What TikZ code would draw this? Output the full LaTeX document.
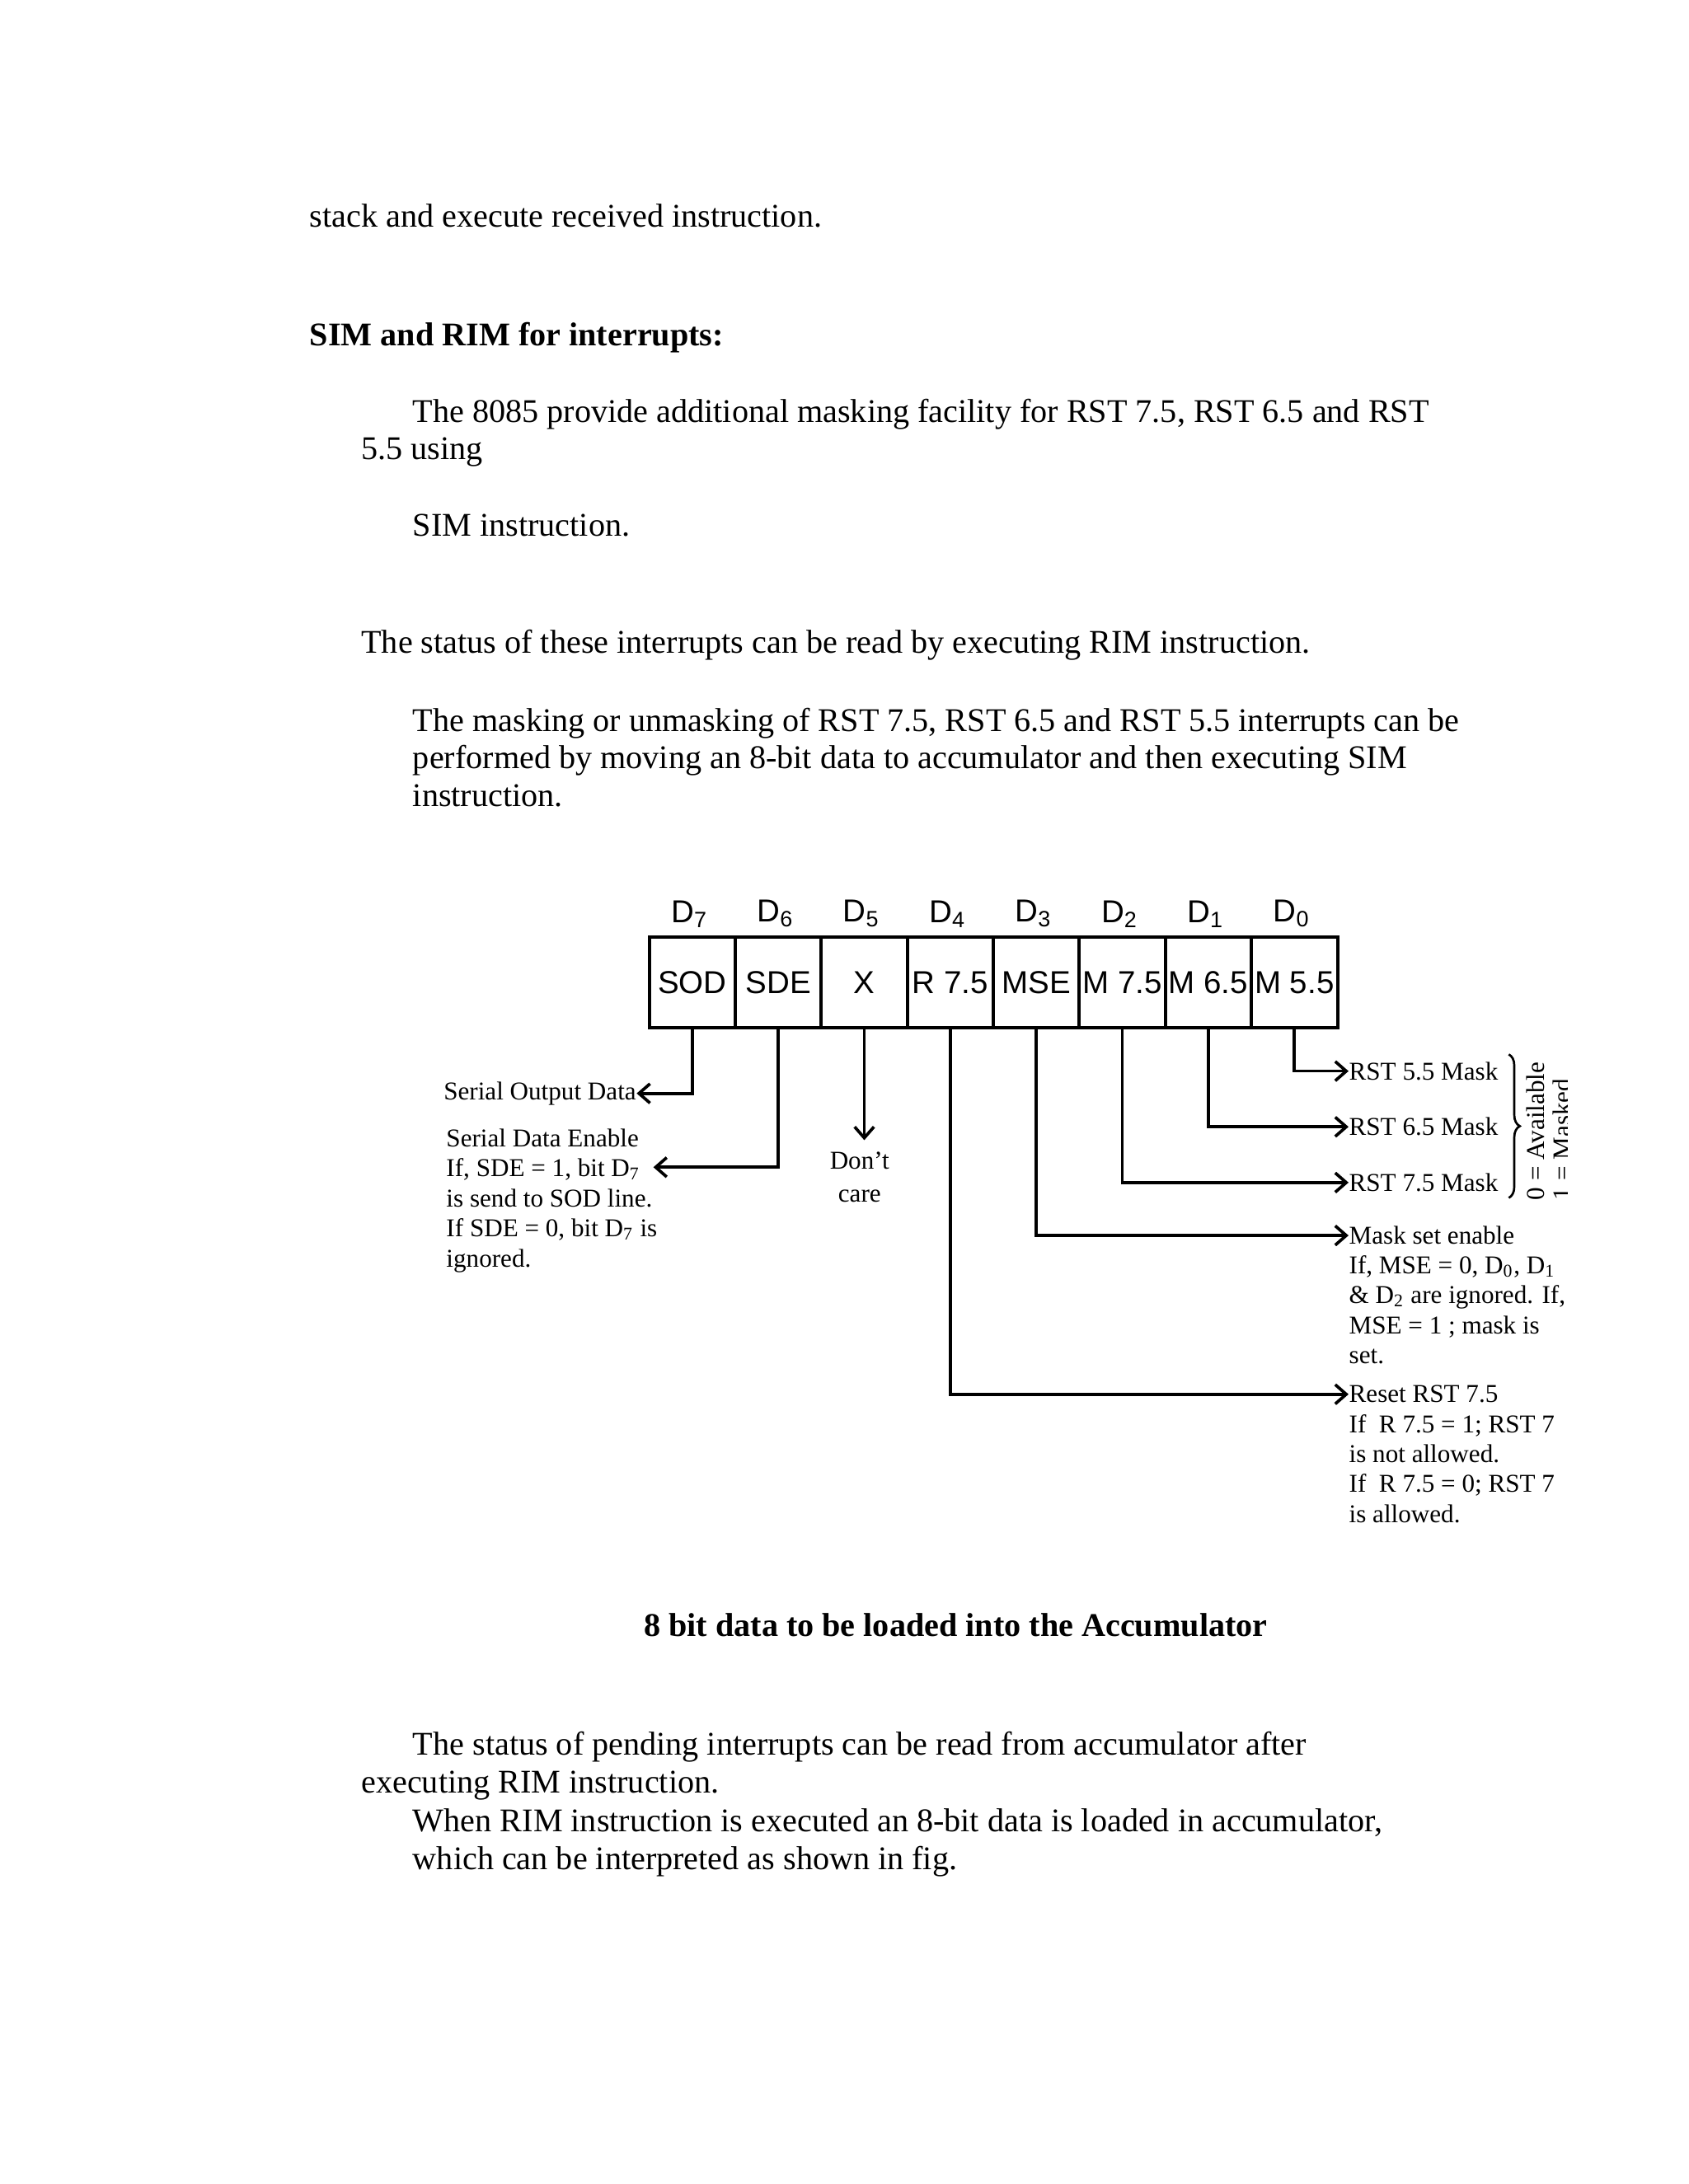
\documentclass[tikz,border=0pt]{standalone}
\usepackage{fontspec}
\setmainfont{Liberation Serif}
\newfontfamily\cellfont{Liberation Sans}
\usetikzlibrary{arrows.meta,positioning,decorations.pathreplacing}

\tikzset{
  cell/.style={draw,line width=1.2pt,minimum width=31.2pt,minimum height=32.8pt,
    inner sep=0pt,outer sep=0pt,font=\cellfont\fontsize{11.5}{13}\selectfont},
  bitlab/.style={inner sep=0pt,font=\cellfont\fontsize{11.5}{13}\selectfont},
  note/.style={inner sep=0pt,align=left,font=\fontsize{9.3}{10.9}\selectfont},
  body/.style={anchor=base west,inner sep=0pt,font=\fontsize{12}{14}\selectfont},
  link/.style={line width=1.1pt,-{Straight Barb[length=4pt,width=7pt,line width=1.1pt]}},
}

\begin{document}
\begin{tikzpicture}[x=0.50495pt,y=-0.50495pt]
\fill[white] (0,0) rectangle (1212,1568);
\useasboundingbox (0,0) rectangle (1212,1568);

% page text
\foreach \xx/\yy/\txt [count=\n] in {
  222/163/{stack and execute received instruction.},
  296/303/{The 8085 provide additional masking facility for RST 7.5, RST 6.5 and RST},
  259/330/{5.5 using},
  296/385/{SIM instruction.},
  259/469/{The status of these interrupts can be read by executing RIM instruction.},
  296/525/{The masking or unmasking of RST 7.5, RST 6.5 and RST 5.5 interrupts can be},
  296/552/{performed by moving an 8-bit data to accumulator and then executing SIM},
  296/579/{instruction.},
  296/1260/{The status of pending interrupts can be read from accumulator after},
  259/1287/{executing RIM instruction.},
  296/1315/{When RIM instruction is executed an 8-bit data is loaded in accumulator,},
  296/1342/{which can be interpreted as shown in fig.}}{
  \node[body] (t\n) at (\xx,\yy) {\txt};
}
\node[body,font=\bfseries\fontsize{12}{14}\selectfont] (head) at (222,248) {SIM and RIM for interrupts:};
\node[body,anchor=base,font=\bfseries\fontsize{12}{14}\selectfont] (caption) at (686,1175)
  {8 bit data to be loaded into the Accumulator};

% register cells and bit labels
\foreach \lab [count=\i from 0] in {SOD,SDE,X,R 7.5,MSE,M 7.5,M 6.5,M 5.5}{
  \pgfmathtruncatemacro\bit{7-\i}
  \node[cell] (c\bit) at ({496.9+61.75*\i},705.5) {\lab};
  \node[bitlab,above=3.5pt of c\bit,xshift=-1pt] (d\bit) {D\textsubscript{\bit}};
}

% left side
\node[note,anchor=east] (sod) at (457,785) {Serial Output Data};
\draw[link] (c7.south) |- (sod);

\node[note,anchor=north west] (sde) at (320,810)
  {Serial Data Enable\\If, SDE = 1, bit D\textsubscript{7}\\is send to SOD line.\\
   If SDE = 0, bit D\textsubscript{7} is\\ignored.};
\coordinate (sdetip) at (469,838);
\draw[link] (c6.south) |- (sdetip);

\node[note,align=center,font=\fontsize{9.3}{12}\selectfont] (dc) at (617,845) {Don't\\care};
\draw[link,shorten >=4pt] (c5.south) -- (c5.south |- dc.north);

% right side
\node[note,anchor=west] (m55) at (968,769) {RST 5.5 Mask};
\node[note,anchor=west] (m65) at (968,809) {RST 6.5 Mask};
\node[note,anchor=west] (m75) at (968,849) {RST 7.5 Mask};
\node[note,anchor=west] (mse) at (968,887) {Mask set enable};
\node[note,anchor=north west] (msebody) at (968,901)
  {If, MSE = 0, D\textsubscript{0}, D\textsubscript{1}\\\& D\textsubscript{2} are ignored. If,\\
   MSE = 1 ; mask is\\set.};
\node[note,anchor=west] (r75) at (968,1001) {Reset RST 7.5};
\node[note,anchor=north west] (r75body) at (968,1015)
  {If~ R 7.5 = 1; RST 7\\is not allowed.\\If~ R 7.5 = 0; RST 7\\is allowed.};

\draw[link] (c0.south) |- (m55);
\draw[link] (c1.south) |- (m65);
\draw[link] (c2.south) |- (m75);
\draw[link] (c3.south) |- (mse);
\draw[link] (c4.south) |- (r75);

% mask brace
\draw[decorate,decoration={brace,amplitude=4pt},line width=0.8pt] (1083,757) -- (1083,860);
\node[note,rotate=90,anchor=west] (avail) at (1102,862) {0 = Available};
\begin{scope}
  \clip (0,0) rectangle (1125,1568);
  \node[note,rotate=90,anchor=west] (masked) at (1121,862) {1 = Masked};
\end{scope}

\end{tikzpicture}
\end{document}
